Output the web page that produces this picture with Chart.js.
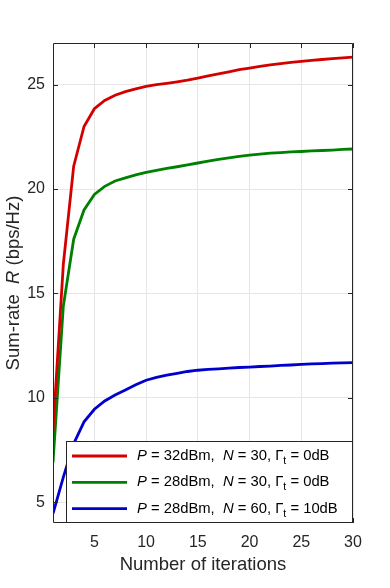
<!DOCTYPE html>
<html>
<head>
<meta charset="utf-8">
<script src="https://cdn.jsdelivr.net/npm/chart.js@4.4.1/dist/chart.umd.min.js"></script>
<style>
html, body { margin: 0; padding: 0; background: #fff; }
#wrap { width: 390px; height: 588px; position: relative; }
</style>
</head>
<body>
<div id="wrap"><canvas id="sumrate-chart"></canvas></div>
<script>
var iterations = [1, 2, 3, 4, 5, 6, 7, 8, 9, 10, 11, 12, 13, 14, 15, 16, 17, 18, 19, 20, 21, 22, 23, 24, 25, 26, 27, 28, 29, 30];
var rateP32N30 = [8.4, 16.4, 21.1, 23.0, 23.85, 24.25, 24.5, 24.67, 24.8, 24.92, 25.0, 25.07, 25.14, 25.22, 25.32, 25.42, 25.52, 25.62, 25.72, 25.8, 25.88, 25.95, 26.01, 26.07, 26.12, 26.17, 26.21, 26.25, 26.29, 26.32];
var rateP28N30 = [6.9, 14.4, 17.6, 19.0, 19.74, 20.13, 20.39, 20.54, 20.68, 20.8, 20.9, 20.99, 21.07, 21.16, 21.25, 21.34, 21.42, 21.5, 21.57, 21.63, 21.68, 21.72, 21.75, 21.78, 21.8, 21.83, 21.85, 21.87, 21.9, 21.92];
var rateP28N60 = [4.45, 6.2, 7.8, 8.85, 9.45, 9.85, 10.13, 10.37, 10.62, 10.84, 10.98, 11.08, 11.17, 11.26, 11.32, 11.36, 11.39, 11.42, 11.45, 11.47, 11.5, 11.52, 11.55, 11.57, 11.6, 11.62, 11.64, 11.66, 11.67, 11.68];
var xTicks = [5, 10, 15, 20, 25, 30];
var yTicks = [5, 10, 15, 20, 25];
var powerLabels = ['32dBm', '28dBm', '28dBm'];
var antennaLabels = ['30', '30', '60'];
var gammaLabels = ['0dB', '0dB', '10dB'];
var lineColors = ['#d40000', '#008000', '#0000cc'];

var fontFamily = '"Liberation Sans", Arial, Helvetica, sans-serif';
var axisColor = '#262626';

function toPoints(ys) {
    var pts = [];
    for (var i = 0; i < iterations.length; i++) {
        pts.push({ x: iterations[i], y: ys[i] });
    }
    return pts;
}

// draws a run of text pieces, some italic / subscript
function drawPieces(ctx, pieces, x, y, size) {
    for (var i = 0; i < pieces.length; i++) {
        var p = pieces[i];
        var fs = p.sub ? size * 0.72 : size;
        ctx.font = (p.it ? 'italic ' : '') + fs + 'px ' + fontFamily;
        ctx.fillText(p.t, x, p.sub ? y + size * 0.35 : y);
        x += ctx.measureText(p.t).width;
    }
    return x;
}

function piecesWidth(ctx, pieces, size) {
    var w = 0;
    for (var i = 0; i < pieces.length; i++) {
        var p = pieces[i];
        var fs = p.sub ? size * 0.72 : size;
        ctx.font = (p.it ? 'italic ' : '') + fs + 'px ' + fontFamily;
        w += ctx.measureText(p.t).width;
    }
    return w;
}

function legendPieces(i) {
    return [
        { t: 'P', it: true }, { t: ' = ' + powerLabels[i] + ',  ' },
        { t: 'N', it: true }, { t: ' = ' + antennaLabels[i] + ', ' },
        { t: '\u0393' }, { t: 't', sub: true }, { t: ' = ' + gammaLabels[i] }
    ];
}

var matlabLook = {
    id: 'matlabLook',
    afterDatasetsDraw: function (chart) {
        var ctx = chart.ctx;
        var a = chart.chartArea;
        var xs = chart.scales.x, ys = chart.scales.y;
        ctx.save();
        // box + inward ticks
        ctx.strokeStyle = axisColor;
        ctx.lineWidth = 1;
        ctx.beginPath();
        ctx.rect(a.left + 0.5, a.top + 0.5, a.right - a.left - 1, a.bottom - a.top - 1);
        xTicks.forEach(function (v) {
            var px = Math.round(xs.getPixelForValue(v)) + 0.5;
            ctx.moveTo(px, a.bottom); ctx.lineTo(px, a.bottom - 5);
            ctx.moveTo(px, a.top); ctx.lineTo(px, a.top + 5);
        });
        yTicks.forEach(function (v) {
            var py = Math.round(ys.getPixelForValue(v)) + 0.5;
            ctx.moveTo(a.left, py); ctx.lineTo(a.left + 5, py);
            ctx.moveTo(a.right, py); ctx.lineTo(a.right - 5, py);
        });
        ctx.stroke();

        // legend
        var lw = 287, lh = 82;
        var lx = a.right - lw, ly = a.bottom - lh;
        ctx.fillStyle = '#fff';
        ctx.fillRect(lx, ly, lw, lh);
        ctx.strokeStyle = '#262626';
        ctx.strokeRect(lx + 0.5, ly + 0.5, lw - 1, lh - 1);
        ctx.textBaseline = 'middle';
        ctx.textAlign = 'left';
        for (var i = 0; i < chart.data.datasets.length; i++) {
            var ry = ly + 15 + i * 26.3;
            ctx.strokeStyle = lineColors[i];
            ctx.lineWidth = 2.8;
            ctx.beginPath();
            ctx.moveTo(lx + 6, ry); ctx.lineTo(lx + 61, ry);
            ctx.stroke();
            ctx.fillStyle = '#000';
            drawPieces(ctx, legendPieces(i), lx + 71, ry, 14.8);
        }

        // axis titles
        ctx.fillStyle = axisColor;
        ctx.font = '18.5px ' + fontFamily;
        ctx.textAlign = 'center';
        ctx.fillText('Number of iterations', (a.left + a.right) / 2, 565);

        var yt = [{ t: 'Sum-rate  ' }, { t: 'R', it: true }, { t: ' (bps/Hz)' }];
        ctx.translate(14, (a.top + a.bottom) / 2);
        ctx.rotate(-Math.PI / 2);
        ctx.textAlign = 'left';
        var w = piecesWidth(ctx, yt, 18.5);
        drawPieces(ctx, yt, -w / 2, 0, 18.5);
        ctx.restore();
    }
};

var lineData = {
    datasets: [
        { data: toPoints(rateP32N30), borderColor: lineColors[0] },
        { data: toPoints(rateP28N30), borderColor: lineColors[1] },
        { data: toPoints(rateP28N60), borderColor: lineColors[2] }
    ]
};
lineData.datasets.forEach(function (d) {
    d.borderWidth = 2.8;
    d.pointRadius = 0;
    d.fill = false;
    d.tension = 0;
});

var context = document.getElementById('sumrate-chart').getContext('2d');
var sumRateChart = new Chart(context, {
    type: 'line',
    data: lineData,
    plugins: [matlabLook],
    options: {
        responsive: true,
        maintainAspectRatio: false,
        animation: false,
        layout: { padding: { left: 0, right: 37, top: 43, bottom: 0 } },
        plugins: { legend: { display: false }, tooltip: { enabled: false } },
        scales: {
            x: {
                type: 'linear',
                min: 1,
                max: 30,
                afterBuildTicks: function (scale) {
                    scale.ticks = xTicks.map(function (v) { return { value: v }; });
                },
                afterFit: function (scale) { scale.height = 65; },
                grid: { color: '#e6e6e6', drawTicks: false },
                border: { display: false },
                ticks: { color: axisColor, padding: 10, maxRotation: 0, font: { family: fontFamily, size: 16 } }
            },
            y: {
                min: 4,
                max: 27,
                afterBuildTicks: function (scale) {
                    scale.ticks = yTicks.map(function (v) { return { value: v }; });
                },
                afterFit: function (scale) { scale.width = 53; },
                grid: { color: '#e6e6e6', drawTicks: false },
                border: { display: false },
                ticks: { color: axisColor, padding: 8, font: { family: fontFamily, size: 16 } }
            }
        }
    }
});
</script>
</body>
</html>
